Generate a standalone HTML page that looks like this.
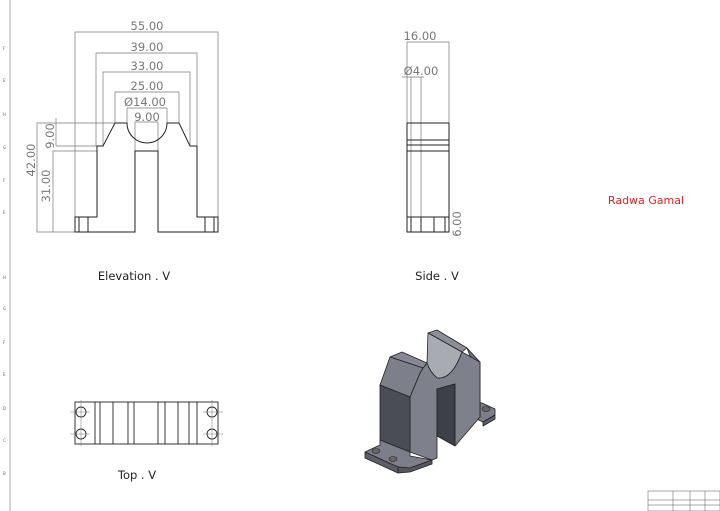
<!DOCTYPE html>
<html><head><style>
body{margin:0;background:#fff;}
svg{display:block;font-family:"DejaVu Sans","Liberation Sans",sans-serif;}
</style></head><body>
<svg width="720" height="511" viewBox="0 0 720 511" xmlns="http://www.w3.org/2000/svg">
<rect width="720" height="511" fill="#fff"/>
<line x1="10" y1="0" x2="10" y2="511" stroke="#888" stroke-width="0.7"/>
<g font-size="4" fill="#666">
<text x="3" y="50">F</text><text x="3" y="82">E</text><text x="3" y="116">H</text><text x="3" y="149">G</text><text x="3" y="182">F</text><text x="3" y="214">E</text><text x="3" y="279">H</text><text x="3" y="310">G</text><text x="3" y="344">F</text><text x="3" y="376">E</text><text x="3" y="410">D</text><text x="3" y="442">C</text><text x="3" y="475">B</text>
</g>
<g stroke="#777" stroke-width="0.7" fill="none">
<polyline points="75,217 75,32 218,32 218,217"/>
<polyline points="96,146 96,53 197,53 197,146"/>
<polyline points="103,146 103,72 190,72 190,146"/>
<polyline points="115,123 115,92 179,92 179,123"/>
<polyline points="127,108 167,108"/>
<line x1="127" y1="108" x2="127" y2="123"/><line x1="167" y1="108" x2="167" y2="123"/>
<polyline points="135,151 135,122 158,122 158,151"/>
<polyline points="115,123 37,123 37,232 75,232"/>
<polyline points="97,151 53,151 53,232"/>
<line x1="56" y1="118" x2="56" y2="146"/><line x1="56" y1="146" x2="103" y2="146"/>
</g>
<g fill="#777" font-size="11.5" text-anchor="middle">
<text x="147" y="30">55.00</text><text x="147" y="51">39.00</text><text x="147" y="70">33.00</text><text x="147" y="90">25.00</text><text x="145" y="106">Ø14.00</text><text x="147" y="121">9.00</text>
<text transform="translate(35,160) rotate(-90)">42.00</text>
<text transform="translate(50,186) rotate(-90)">31.00</text>
<text transform="translate(54,136) rotate(-90)">9.00</text>
</g>
<g stroke="#222" stroke-width="1" fill="none">
<path d="M75,232 L75,217 L97,217 L97,146 L103,146 L115,123 L127,123 A20,20 0 0 0 167,123 L179,123 L190,146 L197,146 L197,217 L218,217 L218,232 L158,232 L158,151 L135,151 L135,232 Z"/>
<line x1="79" y1="217" x2="79" y2="232"/><line x1="88" y1="217" x2="88" y2="232"/>
<line x1="205" y1="217" x2="205" y2="232"/><line x1="214" y1="217" x2="214" y2="232"/>
</g>
<text x="134" y="280" font-size="11.5" fill="#222" text-anchor="middle">Elevation . V</text>
<g stroke="#777" stroke-width="0.7" fill="none">
<polyline points="407,123 407,42 449,42 449,123"/>
<line x1="411" y1="77" x2="411" y2="232"/><line x1="421" y1="77" x2="421" y2="232"/>
<line x1="402" y1="77" x2="424" y2="77"/>
<line x1="449" y1="212" x2="449" y2="232"/>
</g>
<g fill="#777" font-size="11.5" text-anchor="middle">
<text x="420" y="40">16.00</text><text x="421" y="75">Ø4.00</text>
<text transform="translate(461,224) rotate(-90)">6.00</text>
</g>
<g stroke="#222" stroke-width="1" fill="none">
<rect x="407" y="123" width="42" height="109"/>
<line x1="407" y1="140" x2="449" y2="140"/><line x1="407" y1="145" x2="449" y2="145"/><line x1="407" y1="151" x2="449" y2="151"/>
<line x1="407" y1="217" x2="449" y2="217"/>
<line x1="411" y1="217" x2="411" y2="232"/><line x1="421" y1="217" x2="421" y2="232"/><line x1="434" y1="217" x2="434" y2="232"/><line x1="445" y1="217" x2="445" y2="232"/>
</g>
<text x="437" y="280" font-size="11.5" fill="#222" text-anchor="middle">Side . V</text>
<text x="646" y="204" font-size="11" fill="#e02020" text-anchor="middle">Radwa Gamal</text>
<g stroke="#222" stroke-width="0.9" fill="none">
<rect x="75" y="402" width="143" height="42"/>
<line x1="95" y1="402" x2="95" y2="444"/><line x1="100" y1="402" x2="100" y2="444"/><line x1="113" y1="402" x2="113" y2="444"/><line x1="128" y1="402" x2="128" y2="444"/><line x1="134" y1="402" x2="134" y2="444"/><line x1="158" y1="402" x2="158" y2="444"/><line x1="165" y1="402" x2="165" y2="444"/><line x1="178" y1="402" x2="178" y2="444"/><line x1="189" y1="402" x2="189" y2="444"/><line x1="197" y1="402" x2="197" y2="444"/>
<circle cx="81" cy="412" r="5"/><circle cx="81" cy="434" r="5"/><circle cx="212" cy="412" r="5"/><circle cx="212" cy="434" r="5"/>
</g>
<g stroke="#777" stroke-width="0.5">
<line x1="70" y1="412" x2="90" y2="412"/><line x1="70" y1="434" x2="90" y2="434"/><line x1="203" y1="412" x2="223" y2="412"/><line x1="203" y1="434" x2="223" y2="434"/>
<line x1="81" y1="400" x2="81" y2="446"/><line x1="212" y1="400" x2="212" y2="446"/>
</g>
<text x="137" y="479" font-size="11.5" fill="#222" text-anchor="middle">Top . V</text>
<!-- Iso -->
<g stroke="#222" stroke-width="0.8" stroke-linejoin="round">
<!-- right base -->
<polygon points="478,402 482,403 495,409 495,415 483,422 470,416" fill="#7c7f8a"/>
<polygon points="483,422 495,415 495,419 483,426" fill="#5c5f68"/>
<!-- back right ridge top -->
<polygon points="428,333 437,330 467,348 462,352" fill="#8c8f9a"/>
<!-- arc interior -->
<path d="M427,363 L428,333 L462,352 Q452,380 437,378 Q430,372 427,363 Z" fill="#a9abb3"/>
<!-- right side face -->
<polygon points="467,348 480,362 480,417 470,412 470,356" fill="#6f727c"/>
<!-- big front face -->
<path d="M410,397 L420,373 L423,368 L427,363 Q430,372 437,378 Q452,380 462,352 L480,362 L480,417 L455,446 L455,384 L437,389 L437,458 L432,460 L410,452 Z" fill="#7e818c"/>
<!-- slot dark -->
<polygon points="437,389 455,384 455,446 437,436" fill="#3d4048"/>
<!-- left ridge top flat -->
<polygon points="390,357 402,352 427,363 423,368" fill="#868994"/>
<!-- left chamfer -->
<polygon points="380,385 390,357 423,368 420,373 410,397" fill="#7d808b"/>
<!-- left pillar dark front -->
<polygon points="380,385 410,397 410,452 380,440" fill="#4a4d56"/>
<!-- left base -->
<polygon points="365,452 380,445 380,440 410,452 410,456 432,460 410,468 398,467" fill="#7c7f8a"/>
<polygon points="365,452 398,467 398,473 365,458" fill="#5c5f68"/>
<polygon points="398,467 410,468 432,460 432,464 410,472 398,473" fill="#555860"/>
</g>
<g fill="#666" stroke="#222" stroke-width="0.6">
<ellipse cx="376" cy="451" rx="4" ry="2.5"/><ellipse cx="393" cy="459" rx="4" ry="2.5"/><ellipse cx="486" cy="409" rx="4" ry="2.5"/>
</g>
<g stroke="#555" stroke-width="0.5" fill="none">
<rect x="648" y="491" width="72" height="20"/>
<line x1="648" y1="505" x2="720" y2="505"/><line x1="648" y1="500" x2="720" y2="500"/>
<line x1="673" y1="491" x2="673" y2="511"/><line x1="690" y1="491" x2="690" y2="511"/><line x1="705" y1="491" x2="705" y2="511"/>
</g>
</svg>
</body></html>
